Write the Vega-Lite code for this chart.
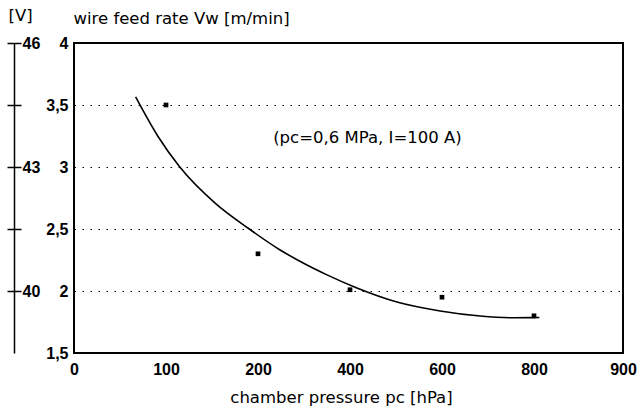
{
  "$schema": "https://vega.github.io/schema/vega-lite/v6.json",
  "width": 549,
  "height": 310,
  "autosize": {"type": "none"},
  "padding": {"left": 74, "top": 43, "right": 16, "bottom": 57},
  "background": "white",
  "config": {
    "view": {"stroke": "black", "strokeWidth": 2},
    "font": "DejaVu Sans",
    "axis": {"labelFont": "Liberation Sans", "titleFont": "DejaVu Sans", "labelColor": "black", "titleColor": "black"}
  },
  "datasets": {
    "measured": [
      {"pressure": 100, "rate": 3.5},
      {"pressure": 200, "rate": 2.3},
      {"pressure": 400, "rate": 2.01},
      {"pressure": 600, "rate": 1.95},
      {"pressure": 800, "rate": 1.8}
    ],
    "fit": [
      {"pressure": 67, "rate": 3.565},
      {"pressure": 91, "rate": 3.25},
      {"pressure": 115, "rate": 3.0},
      {"pressure": 154, "rate": 2.705},
      {"pressure": 189, "rate": 2.508},
      {"pressure": 248, "rate": 2.331},
      {"pressure": 291, "rate": 2.24},
      {"pressure": 350, "rate": 2.13},
      {"pressure": 415, "rate": 2.024},
      {"pressure": 502, "rate": 1.911},
      {"pressure": 596, "rate": 1.839},
      {"pressure": 683, "rate": 1.798},
      {"pressure": 754, "rate": 1.784},
      {"pressure": 806, "rate": 1.786}
    ],
    "note": [
      {"pressure": 233, "rate": 3.234, "label": "(pc=0,6 MPa, I=100 A)"}
    ]
  },
  "encoding": {
    "x": {
      "field": "pressure",
      "type": "quantitative",
      "scale": {"domain": [0, 100, 200, 400, 600, 800, 900], "range": [0, 92, 184, 276, 368, 460, 549], "nice": false, "zero": false},
      "axis": {
        "values": [0, 100, 200, 400, 600, 800, 900],
        "ticks": false,
        "domain": false,
        "grid": false,
        "labelFontSize": 16,
        "labelFontWeight": "bold",
        "labelPadding": 8,
        "labelFlush": false,
        "title": "chamber pressure pc [hPa]",
        "titleFontSize": 16.5,
        "titleFontWeight": "normal",
        "titleX": 267,
        "titleAlign": "center",
        "titlePadding": 12
      }
    }
  },
  "layer": [
    {
      "data": {"name": "measured"},
      "mark": {"type": "point", "shape": "square", "filled": true, "color": "black", "size": 22, "opacity": 1},
      "encoding": {
        "y": {
          "field": "rate",
          "type": "quantitative",
          "scale": {"domain": [1.5, 4], "nice": false, "zero": false},
          "axis": {
            "values": [1.5, 2, 2.5, 3, 3.5, 4],
            "ticks": false,
            "domain": false,
            "grid": true,
            "gridColor": "black",
            "gridDash": [1.5, 6.5],
            "gridWidth": 1.2,
            "gridOpacity": 1,
            "labelExpr": "replace(format(datum.value, '~g'), '.', ',')",
            "labelFontSize": 16,
            "labelFontWeight": "bold",
            "labelPadding": 6,
            "labelFlush": false,
            "title": "wire feed rate Vw [m/min]",
            "titleAngle": 0,
            "titleAlign": "left",
            "titleBaseline": "middle",
            "titleX": -1,
            "titleY": -25,
            "titleFontSize": 16.5,
            "titleFontWeight": "normal"
          }
        }
      }
    },
    {
      "data": {"name": "fit"},
      "mark": {"type": "line", "color": "black", "strokeWidth": 1.6, "interpolate": "monotone"},
      "encoding": {
        "y": {
          "field": "rate",
          "type": "quantitative",
          "axis": {
            "orient": "right",
            "offset": -609,
            "values": [2, 2.5, 3, 3.5, 4],
            "grid": false,
            "domain": true,
            "domainColor": "black",
            "domainWidth": 1.5,
            "ticks": true,
            "tickColor": "black",
            "tickSize": 7,
            "tickWidth": 1.5,
            "labelExpr": "datum.value == 2 ? '40' : datum.value == 3 ? '43' : datum.value == 4 ? '46' : ''",
            "labelFontSize": 16,
            "labelFontWeight": "bold",
            "labelPadding": 1,
            "labelFlush": false,
            "title": "[V]",
            "titleAngle": 0,
            "titleAlign": "left",
            "titleBaseline": "middle",
            "titleX": -6,
            "titleY": -28,
            "titleFontSize": 16.5,
            "titleFontWeight": "normal"
          }
        }
      }
    },
    {
      "data": {"name": "note"},
      "mark": {"type": "text", "align": "left", "baseline": "middle", "fontSize": 16.5, "color": "black", "font": "DejaVu Sans"},
      "encoding": {
        "text": {"field": "label"},
        "y": {
          "field": "rate",
          "type": "quantitative",
          "axis": {
            "orient": "left",
            "offset": 60,
            "values": [2, 2.5, 3, 3.5, 4],
            "grid": false,
            "domain": false,
            "ticks": true,
            "tickColor": "black",
            "tickSize": 7,
            "tickWidth": 1.5,
            "labels": false,
            "title": null
          }
        }
      }
    }
  ],
  "resolve": {"axis": {"y": "independent"}}
}
